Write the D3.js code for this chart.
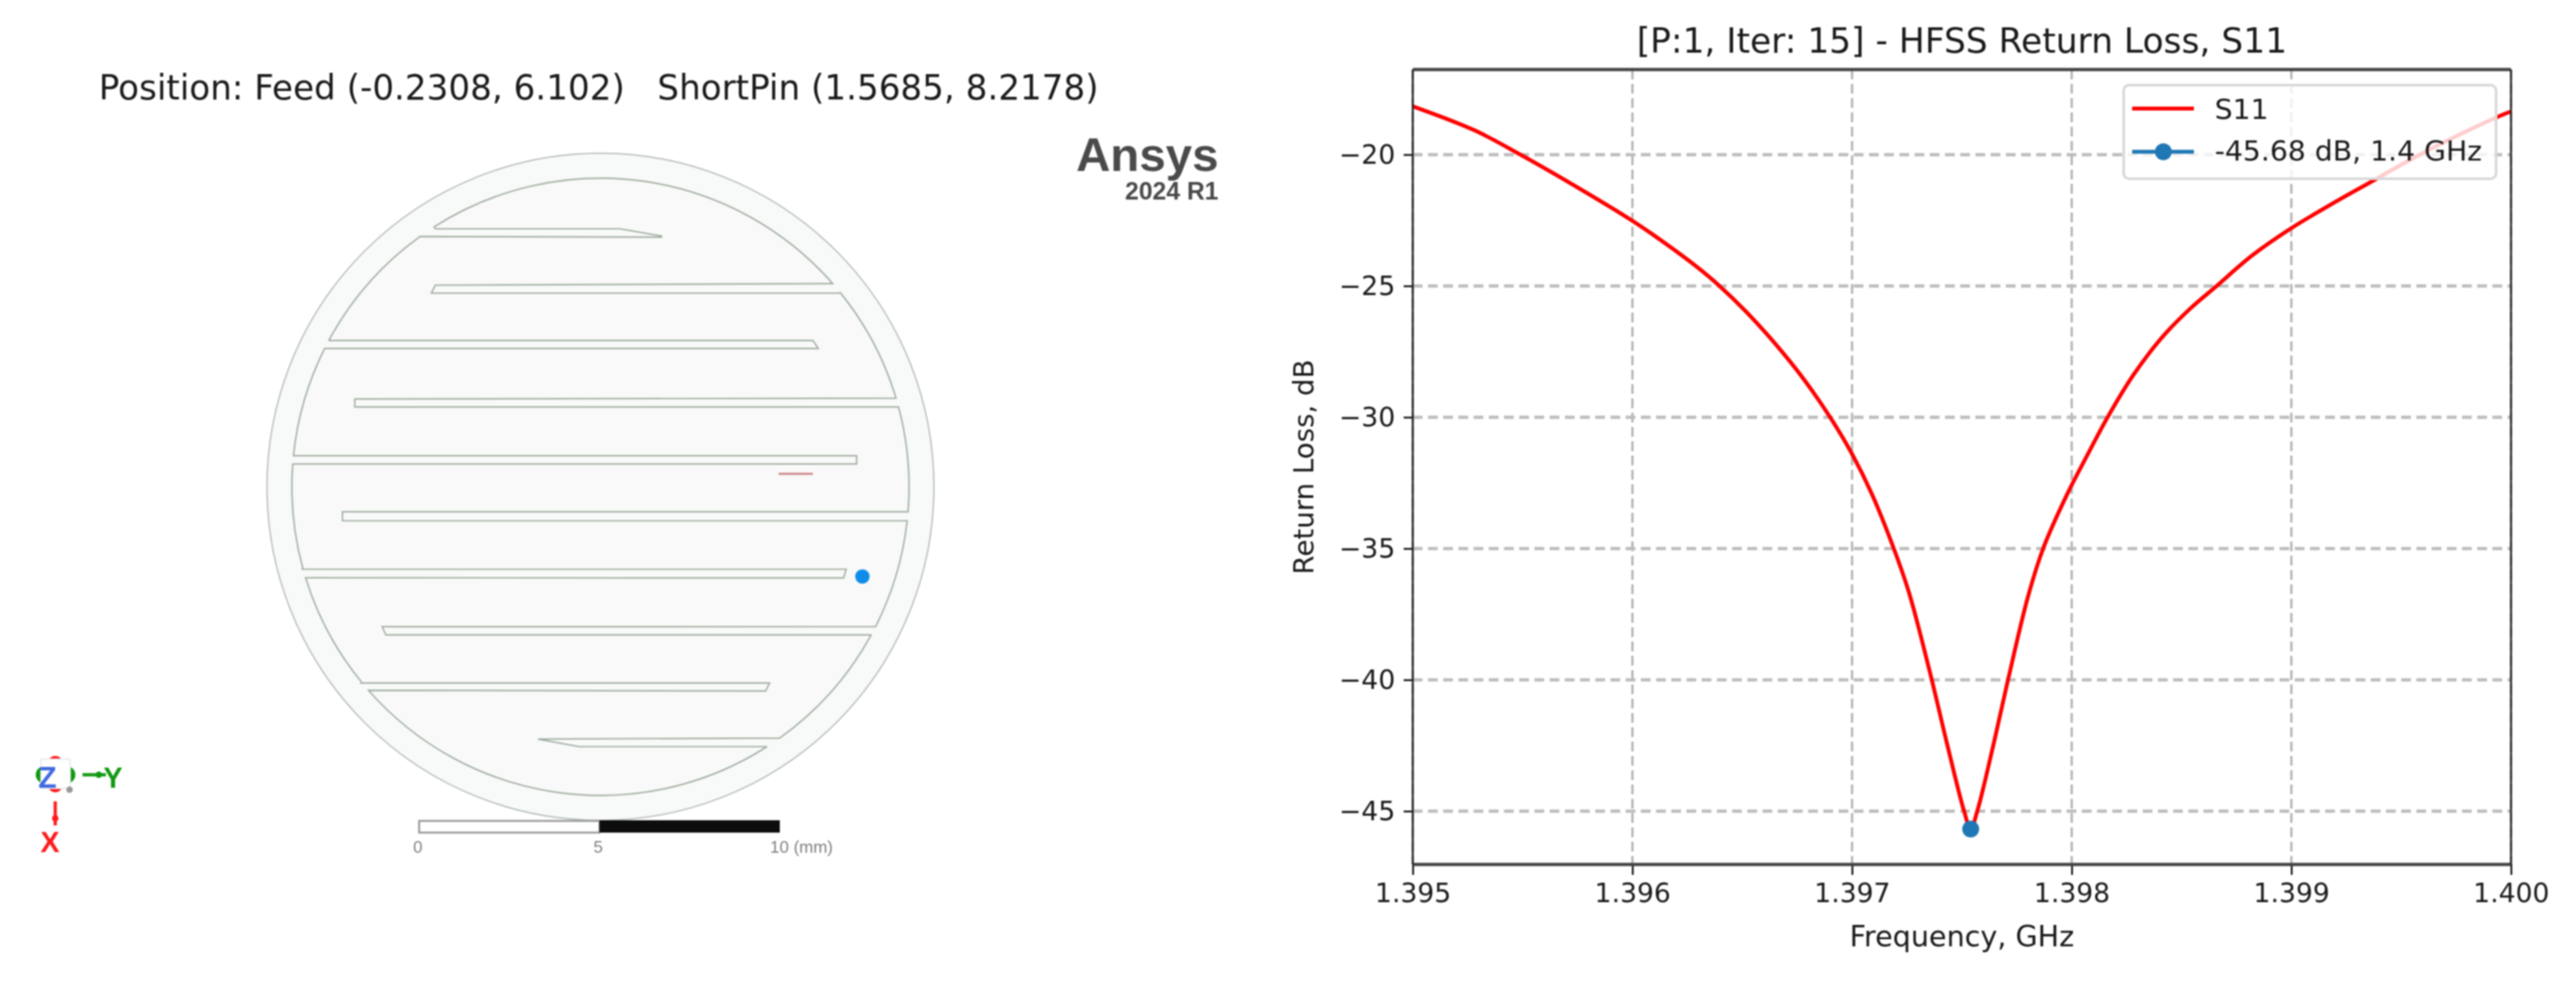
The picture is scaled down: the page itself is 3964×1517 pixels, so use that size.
<!DOCTYPE html>
<html>
<head>
<meta charset="utf-8">
<script src="https://cdn.jsdelivr.net/npm/d3@7"></script>
<style>
  html, body { margin: 0; padding: 0; background: #fff; }
  svg { display: block; filter: blur(1.1px); }
  text { font-family: "DejaVu Sans", sans-serif; fill: #1a1a1a; }
  .arial { font-family: "Liberation Sans", Arial, sans-serif; }
</style>
</head>
<body>
<svg id="fig" width="3964" height="1517"></svg>
<script>
// S11 sweep
const freqGHz = [1.395, 1.39528, 1.39549, 1.39572, 1.396, 1.39615, 1.39629, 1.39639, 1.39652, 1.39665, 1.39678, 1.3969, 1.397, 1.39709, 1.39719, 1.39726, 1.39736, 1.39743, 1.39751, 1.39754, 1.39757, 1.39764, 1.39771, 1.3978, 1.39787, 1.39798, 1.39807, 1.39816, 1.39828, 1.39841, 1.39854, 1.39866, 1.39882, 1.399, 1.39918, 1.39936, 1.39954, 1.39975, 1.39998, 1.4];
const s11dB = [-18.16, -19.07, -20, -21.1, -22.52, -23.38, -24.25, -24.95, -26, -27.2, -28.55, -30, -31.4, -32.92, -35, -36.7, -39.9, -42.35, -45, -45.68, -45, -42.6, -40, -36.86, -35, -32.92, -31.46, -30.05, -28.4, -26.97, -25.86, -25, -23.85, -22.8, -21.9, -21.05, -20.2, -19.3, -18.42, -18.36];
const xTicks = [1.395, 1.396, 1.397, 1.398, 1.399, 1.4];
const yTicks = [-20, -25, -30, -35, -40, -45];
const xDomain = [1.395, 1.4];
const yDomain = [-47.03, -16.76];
const minFreq = 1.39754;
const minDb = -45.68;
const legendLabels = ['S11', '-45.68 dB, 1.4 GHz'];

// antenna outline in mm from disc centre: [horizontal, vertical, arc to next vertex?]
const outline = [
  [-4.57, -7.14, 1], [6.38, -5.58, 0], [-4.57, -5.58, 0], [-4.68, -5.36, 0], [6.62, -5.36, 1],
  [8.11, -2.43, 0], [-6.80, -2.43, 0], [-6.80, -2.21, 0], [8.24, -2.21, 1],
  [8.51, 0.69, 0], [-7.14, 0.69, 0], [-7.14, 0.94, 0], [8.45, 0.94, 1],
  [7.61, 3.87, 0], [-6.04, 3.87, 0], [-5.94, 4.10, 0], [7.48, 4.10, 1],
  [4.98, 6.98, 0], [-1.73, 6.98, 0], [-0.59, 7.19, 0], [4.59, 7.19, 1],
  [-6.44, 5.65, 0], [4.57, 5.65, 0], [4.68, 5.43, 0], [-6.62, 5.43, 1],
  [-8.17, 2.52, 0], [6.73, 2.52, 0], [6.80, 2.28, 0], [-8.27, 2.28, 1],
  [-8.51, -0.63, 0], [7.09, -0.63, 0], [7.09, -0.86, 0], [-8.51, -0.86, 1],
  [-7.64, -3.83, 0], [6.03, -3.83, 0], [5.88, -4.05, 0], [-7.52, -4.05, 1],
  [-4.98, -6.91, 0], [1.69, -6.91, 0], [1.69, -6.94, 0], [0.54, -7.14, 0],
];
const discRadius = 9.23;
const innerRadius = 8.54;
const feedLine = [[4.93, -0.36], [5.88, -0.36]];
const pinDot = [7.25, 2.48];
const scaleTicks = [0, 5, 10];

const svg = d3.select('#fig');

// ── Left panel: layout view ──────────────────────────
svg.append('text')
  .attr('x', 152).attr('y', 153)
  .attr('font-size', 52.6)
  .style('white-space', 'pre')
  .text('Position: Feed (-0.2308, 6.102)   ShortPin (1.5685, 8.2178)');

const mmX = d3.scaleLinear().domain([-10, 10]).range([924 - 556, 924 + 556]);
const mmY = d3.scaleLinear().domain([-10, 10]).range([749 - 556, 749 + 556]);
const rPx = mm => mmX(mm) - mmX(0);

svg.append('circle')
  .attr('cx', mmX(0)).attr('cy', mmY(0)).attr('r', rPx(discRadius))
  .attr('fill', '#f8f9f9').attr('stroke', '#b4bdb4').attr('stroke-width', 2);

const p = d3.path();
outline.forEach((pt, i) => {
  const next = outline[(i + 1) % outline.length];
  if (i === 0) p.moveTo(mmX(pt[0]), mmY(pt[1]));
  if (pt[2]) {
    p.arc(mmX(0), mmY(0), rPx(innerRadius), Math.atan2(pt[1], pt[0]), Math.atan2(next[1], next[0]), false);
  } else {
    p.lineTo(mmX(next[0]), mmY(next[1]));
  }
});
p.closePath();
svg.append('path')
  .attr('d', p.toString())
  .attr('fill', '#f9f9f9').attr('stroke', '#9fae9f').attr('stroke-width', 2.2);

svg.append('line')
  .attr('x1', mmX(feedLine[0][0])).attr('x2', mmX(feedLine[1][0]))
  .attr('y1', mmY(feedLine[0][1])).attr('y2', mmY(feedLine[1][1]))
  .attr('stroke', '#c98080').attr('stroke-width', 3);

svg.append('circle')
  .attr('cx', mmX(pinDot[0])).attr('cy', mmY(pinDot[1])).attr('r', 11)
  .attr('fill', '#0f8ce9');

svg.append('text').attr('class', 'arial')
  .attr('x', 1875).attr('y', 263).attr('text-anchor', 'end')
  .attr('font-size', 73).attr('font-weight', 'bold').style('fill', '#4a4a4a')
  .text('Ansys');
svg.append('text').attr('class', 'arial')
  .attr('x', 1875).attr('y', 307).attr('text-anchor', 'end')
  .attr('font-size', 38).attr('font-weight', 'bold').style('fill', '#4a4a4a')
  .text('2024 R1');

// scale bar
const sb = d3.scaleLinear().domain([0, 10]).range([645, 1200]);
svg.append('rect')
  .attr('x', sb(0)).attr('y', 1263).attr('width', sb(5) - sb(0)).attr('height', 18)
  .attr('fill', '#fff').attr('stroke', '#999').attr('stroke-width', 3);
svg.append('rect')
  .attr('x', sb(5)).attr('y', 1262).attr('width', sb(10) - sb(5)).attr('height', 19)
  .attr('fill', '#0d0d0d');
svg.selectAll('.sb-label')
  .data(scaleTicks)
  .join('text')
  .attr('class', 'sb-label arial')
  .attr('x', d => sb(d) - 2)
  .attr('y', 1312)
  .attr('text-anchor', d => d === 10 ? 'start' : 'middle')
  .attr('dx', d => d === 10 ? -13 : 0)
  .attr('font-size', 26)
  .style('fill', '#808080')
  .text(d => d === 10 ? '10 (mm)' : d);

// axis triad
const triad = svg.append('g');
const RED = '#ff1a1a', GREEN = '#119911', BLUE = '#4169e1';
triad.append('circle').attr('cx', 85).attr('cy', 1174).attr('r', 11).attr('fill', RED);
triad.append('circle').attr('cx', 85).attr('cy', 1208).attr('r', 11).attr('fill', RED);
triad.append('circle').attr('cx', 68).attr('cy', 1192).attr('r', 13).attr('fill', GREEN);
triad.append('circle').attr('cx', 103).attr('cy', 1192).attr('r', 13).attr('fill', GREEN);
triad.append('rect').attr('x', 63).attr('y', 1168).attr('width', 45).attr('height', 45)
  .attr('fill', '#fff').attr('stroke', '#e4eaf4').attr('stroke-width', 2);
triad.append('circle').attr('cx', 107).attr('cy', 1215).attr('r', 5).attr('fill', '#999');
triad.append('text').attr('class', 'arial').attr('x', 73).attr('y', 1212).attr('text-anchor', 'middle')
  .attr('font-size', 46).attr('font-weight', 'bold').style('fill', BLUE).text('Z');
triad.append('line').attr('x1', 127).attr('x2', 163).attr('y1', 1192).attr('y2', 1192)
  .attr('stroke', GREEN).attr('stroke-width', 5);
triad.append('circle').attr('cx', 152).attr('cy', 1192).attr('r', 5).attr('fill', GREEN);
triad.append('text').attr('class', 'arial').attr('x', 174).attr('y', 1212).attr('text-anchor', 'middle')
  .attr('font-size', 44).attr('font-weight', 'bold').style('fill', GREEN).text('Y');
triad.append('line').attr('x1', 85).attr('x2', 85).attr('y1', 1233).attr('y2', 1270)
  .attr('stroke', RED).attr('stroke-width', 5);
triad.append('circle').attr('cx', 85).attr('cy', 1259).attr('r', 5).attr('fill', RED);
triad.append('text').attr('class', 'arial').attr('x', 77).attr('y', 1311).attr('text-anchor', 'middle')
  .attr('font-size', 44).attr('font-weight', 'bold').style('fill', RED).text('X');

// ── Right panel: return loss ─────────────────────────
const M = { left: 2174, right: 3864, top: 107, bottom: 1330 };
const x = d3.scaleLinear().domain(xDomain).range([M.left, M.right]);
const y = d3.scaleLinear().domain(yDomain).range([M.bottom, M.top]);
const chart = svg.append('g');

// grid
chart.append('g').selectAll('line').data(xTicks).join('line')
  .attr('x1', d => x(d)).attr('x2', d => x(d))
  .attr('y1', M.top).attr('y2', M.bottom)
  .attr('stroke', '#b4b4b4').attr('stroke-width', 3.5)
  .attr('stroke-dasharray', '15,7');
chart.append('g').selectAll('line').data(yTicks).join('line')
  .attr('x1', M.left).attr('x2', M.right)
  .attr('y1', d => y(d)).attr('y2', d => y(d))
  .attr('stroke', '#bcbcbc').attr('stroke-width', 5)
  .attr('stroke-dasharray', '15,8.4');

// curve
const line = d3.line()
  .x((_, i) => x(freqGHz[i]))
  .y(d => y(d))
  .curve(d3.curveCatmullRom.alpha(0.5));
chart.append('path')
  .attr('d', line(s11dB))
  .attr('fill', 'none').attr('stroke', '#ff0000').attr('stroke-width', 6);

chart.append('circle')
  .attr('cx', x(minFreq)).attr('cy', y(minDb)).attr('r', 13)
  .attr('fill', '#1f77b4');

// spines + axes
const axisX = chart.append('g')
  .attr('transform', `translate(0,${M.bottom})`)
  .call(d3.axisBottom(x).tickValues(xTicks).tickFormat(d3.format('.3f')).tickSize(16).tickPadding(13));
const axisY = chart.append('g')
  .attr('transform', `translate(${M.left},0)`)
  .call(d3.axisLeft(y).tickValues(yTicks).tickFormat(d => '\u2212' + Math.abs(d)).tickSize(14).tickPadding(13));
[axisX, axisY].forEach(a => {
  a.select('.domain').remove();
  a.selectAll('.tick line').attr('stroke', '#222').attr('stroke-width', 3);
  a.selectAll('text').attr('font-size', 41).attr('font-family', null).style('fill', '#1a1a1a');
});
chart.append('line').attr('x1', M.left).attr('x2', M.right).attr('y1', M.top).attr('y2', M.top)
  .attr('stroke', '#444').attr('stroke-width', 5);
chart.append('line').attr('x1', M.left).attr('x2', M.right).attr('y1', M.bottom).attr('y2', M.bottom)
  .attr('stroke', '#444').attr('stroke-width', 5);
chart.append('line').attr('x1', M.left).attr('x2', M.left).attr('y1', M.top).attr('y2', M.bottom)
  .attr('stroke', '#222').attr('stroke-width', 3);
chart.append('line').attr('x1', M.right).attr('x2', M.right).attr('y1', M.top).attr('y2', M.bottom)
  .attr('stroke', '#222').attr('stroke-width', 3);

// labels
chart.append('text')
  .attr('x', (M.left + M.right) / 2).attr('y', 81).attr('text-anchor', 'middle')
  .attr('font-size', 53).text('[P:1, Iter: 15] - HFSS Return Loss, S11');
chart.append('text')
  .attr('x', (M.left + M.right) / 2).attr('y', 1456).attr('text-anchor', 'middle')
  .attr('font-size', 44).text('Frequency, GHz');
chart.append('text')
  .attr('transform', `translate(2021,${(M.top + M.bottom) / 2}) rotate(-90)`)
  .attr('text-anchor', 'middle')
  .attr('font-size', 42.5).text('Return Loss, dB');

// legend
const lg = chart.append('g');
lg.append('rect')
  .attr('x', 3268).attr('y', 131).attr('width', 573).attr('height', 144).attr('rx', 8)
  .attr('fill', '#fff').attr('fill-opacity', 0.8)
  .attr('stroke', '#d8d8d8').attr('stroke-width', 4);
lg.append('line').attr('x1', 3281).attr('x2', 3376).attr('y1', 167).attr('y2', 167)
  .attr('stroke', '#ff0000').attr('stroke-width', 6);
lg.append('line').attr('x1', 3281).attr('x2', 3376).attr('y1', 233.5).attr('y2', 233.5)
  .attr('stroke', '#1f77b4').attr('stroke-width', 6);
lg.append('circle').attr('cx', 3329).attr('cy', 233.5).attr('r', 13).attr('fill', '#1f77b4');
lg.selectAll('.lg-label')
  .data(legendLabels)
  .join('text')
  .attr('class', 'lg-label')
  .attr('x', 3408)
  .attr('y', (_, i) => 183 + i * 64)
  .attr('font-size', 43.5)
  .text(d => d);
</script>
</body>
</html>
